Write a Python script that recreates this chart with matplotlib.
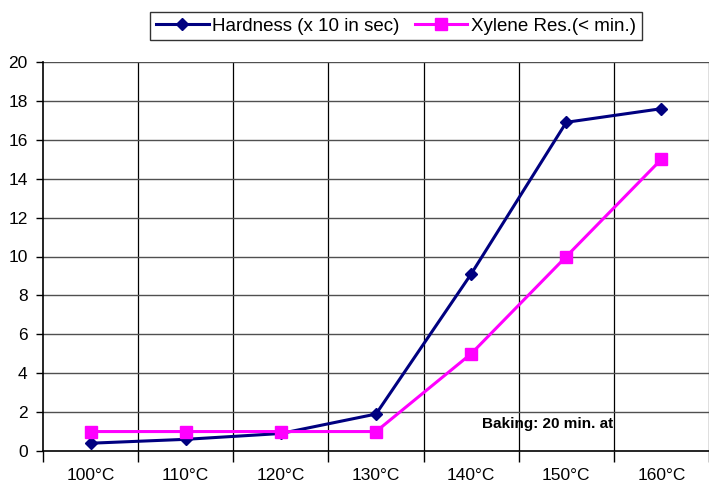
import matplotlib
matplotlib.use("Agg")
from matplotlib import pyplot as plt
import numpy as np

plt.rcParams['font.family'] = ['Liberation Sans', 'DejaVu Sans']

# Data
temps = ['100°C', '110°C', '120°C', '130°C', '140°C', '150°C', '160°C']
hardness = [0.4, 0.6, 0.9, 1.9, 9.1, 16.9, 17.6]
xylene = [1, 1, 1, 1, 5, 10, 15]

fig = plt.figure(figsize=(7.09, 4.84), dpi=100)
ax = fig.add_axes([43/709, 1 - 451/484, 1 - 43/709, (451 - 62)/484])

x = np.arange(len(temps))
ax.plot(x, hardness, color='#000080', lw=2.2, marker='D', ms=6.5,
        label='Hardness (x 10 in sec)', zorder=3)
ax.plot(x, xylene, color='#ff00ff', lw=2.2, marker='s', ms=8,
        label='Xylene Res.(< min.)', zorder=3)

ax.set_xlim(-0.5, 6.4375)
ax.set_ylim(0, 20)
ax.set_yticks(range(0, 21, 2))
ax.set_xticks(x)
ax.set_xticklabels(temps)
ax.set_xticks(np.arange(-0.5, 7, 1), minor=True)
ax.tick_params(axis='x', which='major', length=0, pad=12, labelsize=12.5)
ax.tick_params(axis='x', which='minor', length=8, width=1, color='black')
ax.tick_params(axis='y', length=5, width=1, pad=6, labelsize=12.5)

# gridlines
for b in np.arange(0.5, 7, 1):
    ax.axvline(b, color='black', lw=0.9, zorder=1)
for v in range(2, 21, 2):
    ax.axhline(v, color='#505050', lw=1, zorder=1)

ax.spines['right'].set_visible(False)
ax.spines['top'].set_visible(False)
ax.spines['left'].set_linewidth(1.2)
ax.spines['bottom'].set_linewidth(1.2)

ax.text(4.80, 1.40, 'Baking: 20 min. at', fontsize=11, fontweight='bold',
        ha='center', va='center', zorder=4)

leg = fig.legend(loc='center', bbox_to_anchor=(396/709, 1 - 26/484), ncol=2,
                 fontsize=13.5, frameon=True, fancybox=False, edgecolor='black',
                 handlelength=2.8, columnspacing=0.8, handletextpad=0.2,
                 borderpad=0.3, borderaxespad=0)
leg.get_frame().set_linewidth(1)

fig.savefig('out.png', dpi=100)
